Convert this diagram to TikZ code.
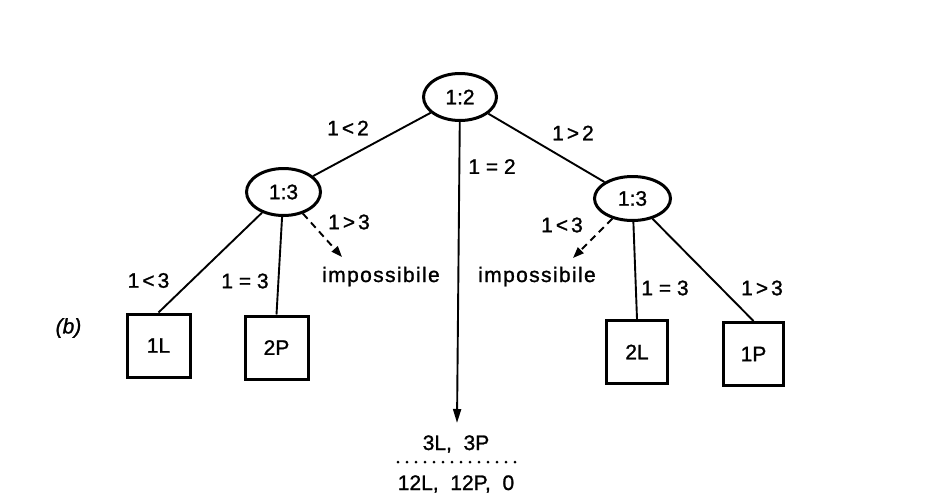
\documentclass[tikz,border=0pt]{standalone}
\usepackage{fontspec}
\setmainfont{Liberation Sans}[FakeBold=1.2]
\newfontfamily\spacedfont{Liberation Sans}[LetterSpace=6.5,FakeBold=1.2]
\usetikzlibrary{shapes.geometric,arrows.meta}
\begin{document}
\begin{tikzpicture}[x=1pt,y=-1pt,
  every node/.style={font=\fontsize{21}{25}\selectfont, inner sep=0pt},
  cmp/.style={ellipse, draw, line width=3pt, minimum width=73pt, minimum height=47pt},
  leaf/.style={rectangle, draw, line width=3pt, minimum width=63pt, minimum height=63pt},
  edge/.style={line width=1.9pt},
  imp/.style={edge, dash pattern=on 7pt off 5pt, -{Triangle[length=11pt,width=8pt]}},
  sep/.style={line width=3pt, line cap=round, dash pattern=on 0pt off 9pt}
]
\useasboundingbox (0,0) rectangle (933,498);

% comparison nodes
\node[cmp] (root) at (460,97) {1:2};
\node[cmp, minimum width=74pt] (l13) at (283.5,192) {1:3};
\node[cmp, minimum width=76pt, minimum height=44pt] (r13) at (632.5,198.5) {1:3};

% leaves
\node[leaf] (b1L) at (158.5,345.5) {1L};
\node[leaf] (b2P) at (276.5,347.5) {2P};
\node[leaf, minimum width=61pt] (b2L) at (637,352) {2L};
\node[leaf, minimum width=60pt] (b1P) at (753.5,354) {1P};

% connectors
\draw[edge] (root) -- (l13);
\draw[edge] (root) -- (r13);
\coordinate (eqend) at (457,423);
\draw[edge, -{Triangle[length=14pt,width=8pt]}] (root) -- (eqend);
\draw[edge] (l13) -- (b1L.north);
\draw[edge] (l13) -- (b2P.north);
\draw[edge] (r13) -- (b2L.north);
\draw[edge] (r13) -- (b1P.north);

\coordinate (impLtip) at (342,257);
\coordinate (impRtip) at (573,258);
\draw[imp] (l13) -- (impLtip);
\draw[imp] (r13) -- (impRtip);

% labels
\node (t12a) at (348,128) {1\kern3pt<\kern3pt2};
\node (t12b) at (573,133) {1\kern3pt>\kern3pt2};
\node (t12c) at (492,166.5) {1 = 2};
\node (t13a) at (349,222) {1\kern3pt>\kern3pt3};
\node (t13b) at (562,225) {1\kern3pt<\kern3pt3};
\node (t13c) at (148.5,280.5) {1\kern3pt<\kern3pt3};
\node (t13d) at (245,281) {1 = 3};
\node (t13e) at (665,288) {1 = 3};
\node (t13f) at (762,288) {1\kern3pt>\kern3pt3};
\node[anchor=base] (impL) at (381,282) {\spacedfont impossibile};
\node[anchor=base] (impR) at (537,282) {\spacedfont impossibile};
\node (lb) at (68.5,328) {\textit{(b)}};

% result below the middle arrow
\node[anchor=base] (res1) at (456,450) {3L,\ \ 3P};
\coordinate (dl) at (398,462);
\coordinate (dr) at (515,462);
\draw[sep] (dl) -- (dr);
\node[anchor=base] (res2) at (456,490) {12L,\ \ 12P,\ \ 0};
\end{tikzpicture}
\end{document}
